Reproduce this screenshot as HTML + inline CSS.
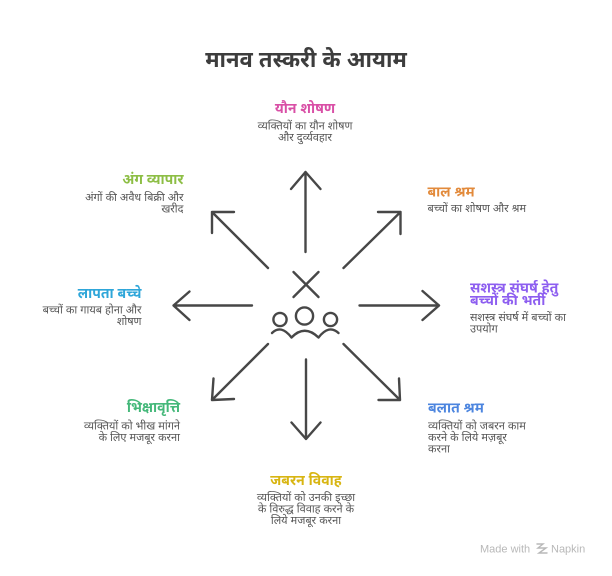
<!DOCTYPE html>
<html>
<head>
<meta charset="utf-8">
<style>
  html,body{margin:0;padding:0;background:#fff;}
  body{width:612px;height:576px;overflow:hidden;}
  svg{display:block;}
  text{font-family:"Liberation Sans","Noto Sans Devanagari","Lohit Devanagari",sans-serif;}
  .t{font-size:22px;font-weight:bold;fill:#3d3d3d;}
  .h{font-size:14px;font-weight:bold;}
  .d{font-size:11px;fill:#555;}
  .a{stroke:#474747;stroke-width:2.4;fill:none;stroke-linecap:round;stroke-linejoin:round;}
</style>
</head>
<body>
<svg width="612" height="576" viewBox="0 0 612 576" xmlns="http://www.w3.org/2000/svg">
  <rect width="612" height="576" fill="#fff"/>

  <!-- Title -->
  <text class="t" x="306" y="67" text-anchor="middle">मानव तस्करी के आयाम</text>

  <!-- Arrows -->
  <!-- up -->
  <path class="a" d="M305.5 252 L305.5 172 M291 189 L305.5 172 L320.5 189"/>
  <!-- up-left -->
  <path class="a" d="M268 268 L212 212 M234 212 L212 212 L212 233"/>
  <!-- up-right -->
  <path class="a" d="M343.5 268 L400.5 212 M378 212 L400.5 212 L400.5 234"/>
  <!-- left -->
  <path class="a" d="M252 305.5 L173.5 305.5 M189.5 291.5 L173.5 305.5 L189.5 320"/>
  <!-- right -->
  <path class="a" d="M359.5 305.5 L439 305.5 M422.5 291 L439 305.5 L422.5 320"/>
  <!-- down-left -->
  <path class="a" d="M268 344 L212 400 M213.5 378.5 L212 400 L234 399"/>
  <!-- down -->
  <path class="a" d="M306 359.5 L306 439 M291.5 422.5 L306 439 L320.5 422.5"/>
  <!-- down-right -->
  <path class="a" d="M343.5 344 L400 400 M378.5 400 L400 400 L399 378.5"/>

  <!-- Center X -->
  <path class="a" d="M293.5 272 L318.5 297 M318.5 272 L293.5 297"/>

  <!-- People icon -->
  <g class="a" stroke-width="2.2">
    <circle cx="280" cy="319.5" r="6.6"/>
    <circle cx="304.5" cy="316" r="8.6"/>
    <circle cx="330.5" cy="319.5" r="6.6"/>
    <path d="M272 333 Q281 324 291.5 337.5 Q304.5 324 318.5 337.5 Q329 324 338.5 333"/>
  </g>

  <!-- Top: यौन शोषण -->
  <text class="h" x="305" y="113" text-anchor="middle" fill="#d94fa6">यौन शोषण</text>
  <text class="d" x="305" y="129.5" text-anchor="middle">व्यक्तियों का यौन शोषण</text>
  <text class="d" x="305" y="141" text-anchor="middle">और दुर्व्यवहार</text>

  <!-- Upper left: अंग व्यापार -->
  <text class="h" x="183.5" y="184" text-anchor="end" fill="#8dbe45">अंग व्यापार</text>
  <text class="d" x="183.5" y="201" text-anchor="end">अंगों की अवैध बिक्री और</text>
  <text class="d" x="183.5" y="212.5" text-anchor="end">खरीद</text>

  <!-- Upper right: बाल श्रम -->
  <text class="h" x="427.5" y="196.5" fill="#e28a3b">बाल श्रम</text>
  <text class="d" x="427.5" y="212" >बच्चों का शोषण और श्रम</text>

  <!-- Left: लापता बच्चे -->
  <text class="h" x="141.5" y="298" text-anchor="end" fill="#2ea6d9">लापता बच्चे</text>
  <text class="d" x="141.5" y="313.5" text-anchor="end">बच्चों का गायब होना और</text>
  <text class="d" x="141.5" y="325" text-anchor="end">शोषण</text>

  <!-- Right: सशस्त्र संघर्ष -->
  <text class="h" x="470" y="292.5" fill="#8d5ef0">सशस्त्र संघर्ष हेतु</text>
  <text class="h" x="470" y="305" fill="#8d5ef0">बच्चों की भर्ती</text>
  <text class="d" x="470" y="321">सशस्त्र संघर्ष में बच्चों का</text>
  <text class="d" x="470" y="332.5">उपयोग</text>

  <!-- Lower left: भिक्षावृत्ति -->
  <text class="h" x="180" y="412" text-anchor="end" fill="#45b87a">भिक्षावृत्ति</text>
  <text class="d" x="180" y="429.5" text-anchor="end">व्यक्तियों को भीख मांगने</text>
  <text class="d" x="180" y="441" text-anchor="end">के लिए मजबूर करना</text>

  <!-- Lower right: बलात श्रम -->
  <text class="h" x="428" y="412.5" fill="#4c85df">बलात श्रम</text>
  <text class="d" x="428" y="429.5">व्यक्तियों को जबरन काम</text>
  <text class="d" x="428" y="441">करने के लिये मज़बूर</text>
  <text class="d" x="428" y="452.5">करना</text>

  <!-- Bottom: जबरन विवाह -->
  <text class="h" x="306" y="485" text-anchor="middle" fill="#d8b512">जबरन विवाह</text>
  <text class="d" x="306" y="501" text-anchor="middle">व्यक्तियों को उनकी इच्छा</text>
  <text class="d" x="306" y="512.5" text-anchor="middle">के विरुद्ध विवाह करने के</text>
  <text class="d" x="306" y="524" text-anchor="middle">लिये मजबूर करना</text>

  <!-- Watermark -->
  <text x="480" y="552.5" font-size="11" fill="#b8b8b8" style="font-family:'Liberation Sans',sans-serif">Made with</text>
  <g stroke="#b8b8b8" stroke-width="1.4" fill="none" stroke-linecap="round">
    <path d="M537 544 L543 544 L538 548 L546 548 L539 553 L547 553"/>
  </g>
  <text x="551" y="552.5" font-size="11" fill="#b8b8b8" style="font-family:'Liberation Sans',sans-serif">Napkin</text>
</svg>
</body>
</html>
